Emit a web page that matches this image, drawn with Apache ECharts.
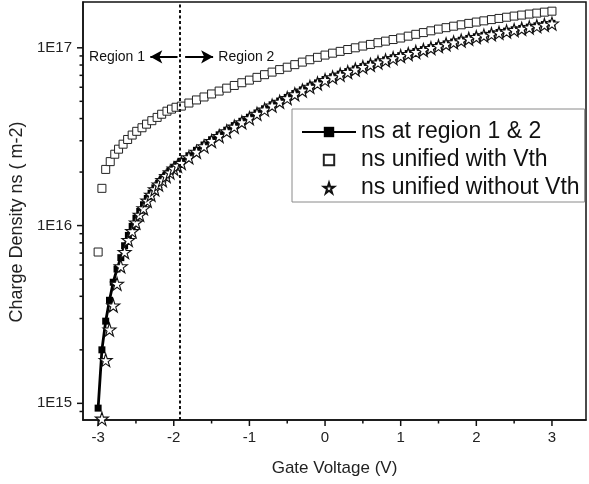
<!DOCTYPE html>
<html>
<head>
<meta charset="utf-8">
<script src="https://cdn.jsdelivr.net/npm/echarts@6/dist/echarts.min.js"></script>
<style>
html, body { margin: 0; padding: 0; background: #fff; }
#chart { width: 589px; height: 484px; }
</style>
</head>
<body>
<div id="chart"></div>
<script>
// charge density values are in units of 1E16 m-2
var UNIT = 1e16;

var xRegion2 = [-1.9, -1.8, -1.7, -1.6, -1.5, -1.4, -1.3, -1.2, -1.1, -1.0,
    -0.9, -0.8, -0.7, -0.6, -0.5, -0.4, -0.3, -0.2, -0.1, 0,
    0.1, 0.2, 0.3, 0.4, 0.5, 0.6, 0.7, 0.8, 0.9, 1.0,
    1.1, 1.2, 1.3, 1.4, 1.5, 1.6, 1.7, 1.8, 1.9, 2.0,
    2.1, 2.2, 2.3, 2.4, 2.5, 2.6, 2.7, 2.8, 2.9, 3.0];

// ns at region 1 & 2
var xBlackR1 = [-3.00, -2.95, -2.90, -2.85, -2.80, -2.75, -2.70, -2.65, -2.60, -2.55, -2.50,
    -2.45, -2.40, -2.35, -2.30, -2.25, -2.20, -2.15, -2.10, -2.05, -2.00, -1.95];
var nsBlackR1 = [0.094, 0.20, 0.29, 0.38, 0.48, 0.57, 0.66, 0.77, 0.88, 0.99, 1.10,
    1.20, 1.31, 1.42, 1.52, 1.63, 1.73, 1.83, 1.93, 2.03, 2.12, 2.21];
var nsBlackR2 = [2.30, 2.47, 2.65, 2.84, 3.04, 3.24, 3.44, 3.65, 3.86, 4.07,
    4.30, 4.54, 4.78, 5.02, 5.26, 5.53, 5.80, 6.08, 6.35, 6.63,
    6.87, 7.11, 7.35, 7.60, 7.84, 8.08, 8.32, 8.55, 8.79, 9.03,
    9.28, 9.53, 9.77, 10.02, 10.27, 10.52, 10.78, 11.03, 11.29, 11.54,
    11.76, 11.98, 12.19, 12.41, 12.63, 12.85, 13.07, 13.29, 13.51, 13.73];

// ns unified with Vth
var xWithVthR1 = [-3.00, -2.95, -2.90, -2.84, -2.78, -2.73, -2.67, -2.61, -2.55,
    -2.49, -2.42, -2.36, -2.29, -2.22, -2.16, -2.09, -2.03, -1.97];
var nsWithVthR1 = [0.71, 1.62, 2.07, 2.29, 2.52, 2.69, 2.87, 3.05, 3.23,
    3.39, 3.55, 3.72, 3.89, 4.06, 4.23, 4.40, 4.52, 4.63];
var nsWithVthR2 = [4.70, 4.89, 5.09, 5.29, 5.50, 5.71, 5.93, 6.14, 6.36, 6.58,
    6.82, 7.06, 7.30, 7.54, 7.78, 8.04, 8.31, 8.57, 8.84, 9.10,
    9.33, 9.55, 9.78, 10.00, 10.23, 10.45, 10.68, 10.90, 11.13, 11.35,
    11.63, 11.91, 12.18, 12.46, 12.74, 12.98, 13.23, 13.47, 13.72, 13.96,
    14.18, 14.41, 14.63, 14.86, 15.08, 15.28, 15.48, 15.67, 15.87, 16.07];

// ns unified without Vth
var xNoVthR1 = [-2.95, -2.90, -2.85, -2.80, -2.75, -2.70, -2.65, -2.60, -2.55, -2.50,
    -2.45, -2.40, -2.35, -2.30, -2.25, -2.20, -2.15, -2.10, -2.05, -2.00, -1.95];
var nsNoVthR1 = [0.082, 0.175, 0.26, 0.355, 0.47, 0.59, 0.71, 0.83, 0.93, 1.04,
    1.15, 1.25, 1.38, 1.49, 1.60, 1.70, 1.80, 1.90, 1.99, 2.09, 2.17];
var nsNoVthR2 = [2.25, 2.42, 2.60, 2.79, 2.99, 3.19, 3.39, 3.60, 3.81, 4.02,
    4.25, 4.49, 4.73, 4.97, 5.21, 5.48, 5.75, 6.03, 6.30, 6.58,
    6.82, 7.06, 7.30, 7.55, 7.79, 8.03, 8.27, 8.50, 8.74, 8.98,
    9.23, 9.48, 9.72, 9.97, 10.22, 10.47, 10.73, 10.98, 11.24, 11.49,
    11.71, 11.93, 12.14, 12.36, 12.58, 12.80, 13.02, 13.24, 13.46, 13.68];

var seriesNames = ['ns at region 1 & 2', 'ns unified with Vth', 'ns unified without Vth'];
var vBoundary = -1.92;
var regionLabels = ['Region 1', 'Region 2'];
var regionLabelX = [-2.75, -1.04];
var regionArrowFrom = [-1.95, -1.85];
var regionArrowTo = [-2.31, -1.48];
var regionY = 8.9e16;

var xMajorTicks = [-3, -2, -1, 0, 1, 2, 3];
var xMinorTicks = [-2.5, -1.5, -0.5, 0.5, 1.5, 2.5];
var yMajorTicks = [1e15, 1e16, 1e17];
var yMinorTicks = [9e14, 2e15, 3e15, 4e15, 5e15, 6e15, 7e15, 8e15, 9e15,
    2e16, 3e16, 4e16, 5e16, 6e16, 7e16, 8e16, 9e16];

var X_MIN = -3.2, X_MAX = 3.45;
var Y_MIN = 8.06e14, Y_MAX = 1.81e17;

var FONT = '"Liberation Sans", Arial, sans-serif';
var STAR = 'path://M50,2 L61.2,36.3 L97.6,36.4 L68.2,57.7 L79.4,92.2 L50,71 L20.6,92.2 L31.8,57.7 L2.4,36.4 L38.8,36.3 Z';

function pairs(xs, ys) {
    var out = [];
    for (var i = 0; i < xs.length; i++) {
        out.push([xs[i], ys[i] * UNIT]);
    }
    return out;
}

var tickData = [];
xMajorTicks.forEach(function (v) { tickData.push([v, Y_MIN, 0, 6]); });
xMinorTicks.forEach(function (v) { tickData.push([v, Y_MIN, 0, 3.5]); });
yMajorTicks.forEach(function (v) { tickData.push([X_MIN, v, 1, 6]); });
yMinorTicks.forEach(function (v) { tickData.push([X_MIN, v, 1, 3.5]); });

var arrows = [];
for (var i = 0; i < regionArrowFrom.length; i++) {
    arrows.push([
        {coord: [regionArrowFrom[i], regionY], symbol: 'none'},
        {coord: [regionArrowTo[i], regionY], symbol: 'arrow', symbolSize: [10, 12]}
    ]);
}
var regionPoints = [];
for (var j = 0; j < regionLabels.length; j++) {
    regionPoints.push({name: regionLabels[j], coord: [regionLabelX[j], regionY]});
}

var myChart = echarts.init(document.getElementById('chart'));
myChart.setOption({
    animation: false,
    textStyle: {fontFamily: FONT},
    grid: {
        left: 83, right: 3, top: 2, bottom: 64,
        outerBoundsMode: 'none',
        show: true, borderColor: '#111', borderWidth: 1.5, backgroundColor: 'transparent'
    },
    legend: {
        orient: 'vertical',
        left: 292, top: 109,
        data: seriesNames,
        itemWidth: 54, itemHeight: 13, itemGap: 2,
        padding: [10, 5, 1, 9],
        borderColor: '#8a8a8a', borderWidth: 1,
        textStyle: {fontSize: 23, color: '#111', fontFamily: FONT, lineHeight: 26}
    },
    xAxis: {
        type: 'value',
        min: X_MIN, max: X_MAX,
        axisLine: {show: true, onZero: false, lineStyle: {color: '#111', width: 1.5}},
        axisTick: {show: false},
        splitLine: {show: false},
        axisLabel: {showMinLabel: false, showMaxLabel: false, margin: 10, fontSize: 15, color: '#222', fontFamily: FONT},
        name: 'Gate Voltage (V)',
        nameLocation: 'middle',
        nameGap: 40,
        nameTextStyle: {fontSize: 17, color: '#222', fontFamily: FONT}
    },
    yAxis: {
        type: 'log', logBase: 10,
        min: Y_MIN, max: Y_MAX,
        axisLine: {show: true, onZero: false, lineStyle: {color: '#111', width: 1.5}},
        axisTick: {show: false},
        splitLine: {show: false},
        minorTick: {show: false},
        axisLabel: {
            showMinLabel: false, showMaxLabel: false, margin: 11, fontSize: 15, color: '#222', fontFamily: FONT,
            formatter: function (v) {
                return '1E' + Math.round(Math.log(v) / Math.LN10);
            }
        },
        name: 'Charge Density ns ( m-2)',
        nameLocation: 'middle',
        nameGap: 55,
        nameTextStyle: {fontSize: 18, color: '#222', fontFamily: FONT, padding: [0, 22, 0, 0]}
    },
    series: [{
            name: seriesNames[0],
            type: 'line',
            data: pairs(xBlackR1.concat(xRegion2), nsBlackR1.concat(nsBlackR2)),
            symbol: 'rect', symbolSize: 7,
            showAllSymbol: true,
            lineStyle: {color: '#000', width: 2.8},
            itemStyle: {color: '#000'},
            emphasis: {disabled: true},
            markLine: {
                silent: true,
                symbol: ['none', 'none'],
                label: {show: false},
                data: [{xAxis: vBoundary, lineStyle: {color: '#111', width: 2, type: [3, 2.5]}}].concat(arrows),
                lineStyle: {color: '#000', width: 2, type: 'solid'}
            },
            markPoint: {
                silent: true,
                symbol: 'circle', symbolSize: 1,
                itemStyle: {color: 'rgba(0,0,0,0)'},
                label: {show: true, position: 'inside', formatter: '{b}', color: '#111', fontSize: 14, fontFamily: FONT},
                data: regionPoints
            }
        }, {
            name: seriesNames[1],
            type: 'line',
            data: pairs(xWithVthR1.concat(xRegion2), nsWithVthR1.concat(nsWithVthR2)),
            symbol: 'rect', symbolSize: 8,
            showAllSymbol: true,
            lineStyle: {opacity: 0},
            itemStyle: {color: '#fff', borderColor: '#222', borderWidth: 1},
            emphasis: {disabled: true}
        }, {
            name: seriesNames[2],
            type: 'line',
            data: pairs(xNoVthR1.concat(xRegion2), nsNoVthR1.concat(nsNoVthR2)),
            symbol: STAR, symbolSize: 13,
            showAllSymbol: true,
            lineStyle: {opacity: 0},
            itemStyle: {color: '#fff', borderColor: '#111', borderWidth: 1.1},
            emphasis: {disabled: true}
        }, {
            type: 'custom',
            silent: true,
            data: tickData,
            encode: {x: 0, y: 1},
            renderItem: function (params, api) {
                var p = api.coord([api.value(0), api.value(1)]);
                var len = api.value(3);
                var shape;
                if (api.value(2) === 0) {
                    shape = {x1: p[0], y1: p[1], x2: p[0], y2: p[1] + len};
                } else {
                    shape = {x1: p[0] - len, y1: p[1], x2: p[0], y2: p[1]};
                }
                return {type: 'line', shape: shape, style: {stroke: '#111', lineWidth: 1.5}};
            }
        }]
});
</script>
</body>
</html>
